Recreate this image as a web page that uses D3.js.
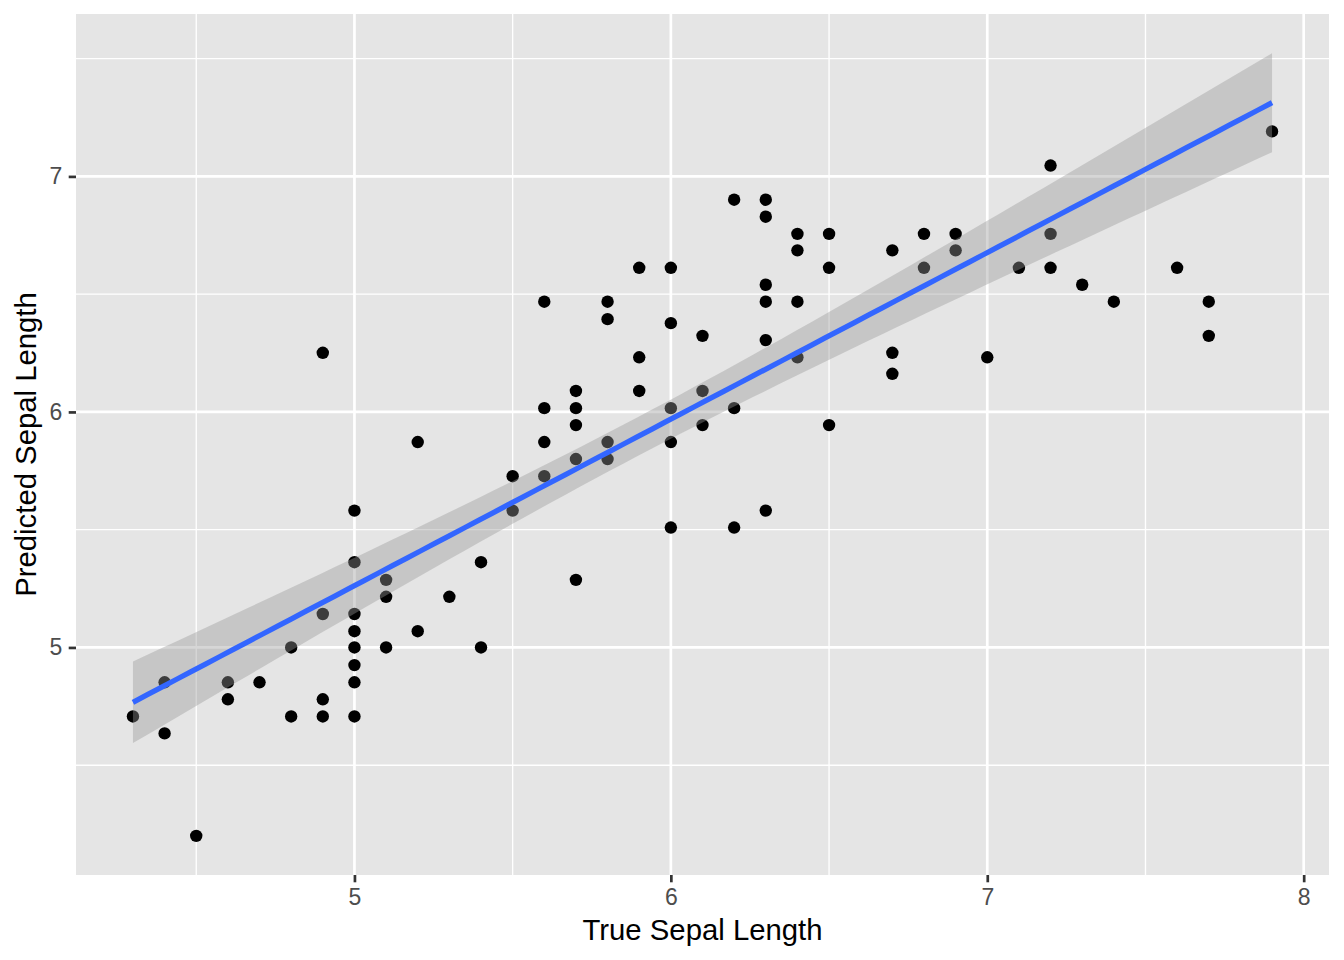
<!DOCTYPE html>
<html>
<head>
<meta charset="utf-8">
<script src="https://cdn.jsdelivr.net/npm/d3@7"></script>
<style>
    body {margin: 0; background: #ffffff;}
    svg {display: block; font-family: "Liberation Sans", Arial, Helvetica, sans-serif;}
    .axis .domain {display: none;}
    .axis line {stroke: #333333; stroke-width: 2.7;}
    .axis text {fill: #4d4d4d; font-size: 23px;}
    .grid-major {stroke: #ffffff; stroke-width: 2.7;}
    .grid-minor {stroke: #ffffff; stroke-width: 1.35;}
    .title {fill: #000000; font-size: 29.3px;}
</style>
</head>
<body>
<div id="plot"></div>
<script>
// true vs predicted sepal length
var trueSepal = [4.3, 4.4, 4.4, 4.5, 4.6, 4.6, 4.7, 4.8, 4.8,
    4.9, 4.9, 4.9, 4.9,
    5.0, 5.0, 5.0, 5.0, 5.0, 5.0, 5.0, 5.0,
    5.1, 5.1, 5.1, 5.2, 5.2, 5.3, 5.4, 5.4, 5.5, 5.5,
    5.6, 5.6, 5.6, 5.6,
    5.7, 5.7, 5.7, 5.7, 5.7,
    5.8, 5.8, 5.8, 5.8,
    5.9, 5.9, 5.9,
    6.0, 6.0, 6.0, 6.0, 6.0,
    6.1, 6.1, 6.1,
    6.2, 6.2, 6.2,
    6.3, 6.3, 6.3, 6.3, 6.3, 6.3,
    6.4, 6.4, 6.4, 6.4,
    6.5, 6.5, 6.5,
    6.7, 6.7, 6.7,
    6.8, 6.8, 6.9, 6.9, 7.0, 7.1,
    7.2, 7.2, 7.2, 7.3, 7.4, 7.6, 7.7, 7.7, 7.9];

var predSepal = [4.707, 4.852, 4.635, 4.200, 4.852, 4.780, 4.852, 5.000, 4.707,
    6.251, 5.142, 4.780, 4.707,
    5.581, 5.362, 5.142, 5.069, 5.000, 4.925, 4.852, 4.707,
    5.287, 5.215, 5.000, 5.872, 5.069, 5.215, 5.362, 5.000, 5.727, 5.581,
    6.468, 6.016, 5.872, 5.727,
    6.089, 6.016, 5.944, 5.800, 5.287,
    6.468, 6.394, 5.872, 5.800,
    6.612, 6.232, 6.089,
    6.612, 6.377, 6.016, 5.872, 5.509,
    6.323, 6.089, 5.944,
    6.901, 6.016, 5.509,
    6.901, 6.829, 6.540, 6.468, 6.305, 5.581,
    6.756, 6.686, 6.468, 6.232,
    6.756, 6.612, 5.944,
    6.686, 6.251, 6.162,
    6.756, 6.612, 6.756, 6.686, 6.232, 6.612,
    7.046, 6.756, 6.612, 6.540, 6.468, 6.612, 6.468, 6.323, 7.191];

var xTicks = [5, 6, 7, 8],
    xMinor = [4.5, 5.5, 6.5, 7.5],
    yTicks = [5, 6, 7],
    yMinor = [4.5, 5.5, 6.5, 7.5];

var margin = {t: 14, r: 15, b: 85, l: 76};
var width = 1344 - margin.l - margin.r,
    height = 960 - margin.t - margin.b;

var svg = d3.select('#plot')
    .append('svg')
    .attr('width', 1344)
    .attr('height', 960);

var data = trueSepal.map(function(d, i){ return {x: d, y: predSepal[i]}; });

// linear fit, like geom_smooth(method = "lm")
var n = data.length;
var mx = d3.mean(data, function(d){ return d.x; }),
    my = d3.mean(data, function(d){ return d.y; });
var sxx = d3.sum(data, function(d){ return (d.x - mx) * (d.x - mx); }),
    sxy = d3.sum(data, function(d){ return (d.x - mx) * (d.y - my); });
var slope = sxy / sxx,
    intercept = my - slope * mx;
var rss = d3.sum(data, function(d){ var e = d.y - intercept - slope * d.x; return e * e; });
var sRes = Math.sqrt(rss / (n - 2));

// t quantile (0.975) by series expansion
function qt975(df){
    var z = 1.959964;
    return z + (Math.pow(z,3) + z) / (4 * df)
        + (5 * Math.pow(z,5) + 16 * Math.pow(z,3) + 3 * z) / (96 * df * df)
        + (3 * Math.pow(z,7) + 19 * Math.pow(z,5) + 17 * Math.pow(z,3) - 15 * z) / (384 * Math.pow(df,3));
}
var tq = qt975(n - 2);

var extentX = d3.extent(data, function(d){ return d.x; });
var smooth = d3.range(80).map(function(i){
    var x = extentX[0] + i * (extentX[1] - extentX[0]) / 79;
    var fit = intercept + slope * x;
    var se = sRes * Math.sqrt(1 / n + (x - mx) * (x - mx) / sxx);
    return {x: x, y: fit, lo: fit - tq * se, hi: fit + tq * se};
});

// ranges with 5% expansion
var yLo = Math.min(d3.min(data, function(d){ return d.y; }), d3.min(smooth, function(d){ return d.lo; })),
    yHi = Math.max(d3.max(data, function(d){ return d.y; }), d3.max(smooth, function(d){ return d.hi; }));
var padX = (extentX[1] - extentX[0]) * 0.05,
    padY = (yHi - yLo) * 0.05;

var scaleX = d3.scaleLinear().domain([extentX[0] - padX, extentX[1] + padX]).range([0, width]);
var scaleY = d3.scaleLinear().domain([yLo - padY, yHi + padY]).range([height, 0]);

var panel = svg.append('g').attr('transform', 'translate(' + margin.l + ',' + margin.t + ')');

panel.append('rect')
    .attr('width', width)
    .attr('height', height)
    .attr('fill', '#e5e5e5');

// grid
panel.selectAll('.gx-minor').data(xMinor).enter().append('line')
    .attr('class', 'grid-minor')
    .attr('x1', function(d){ return scaleX(d); }).attr('x2', function(d){ return scaleX(d); })
    .attr('y1', 0).attr('y2', height);
panel.selectAll('.gy-minor').data(yMinor).enter().append('line')
    .attr('class', 'grid-minor')
    .attr('y1', function(d){ return scaleY(d); }).attr('y2', function(d){ return scaleY(d); })
    .attr('x1', 0).attr('x2', width);
panel.selectAll('.gx-major').data(xTicks).enter().append('line')
    .attr('class', 'grid-major')
    .attr('x1', function(d){ return scaleX(d); }).attr('x2', function(d){ return scaleX(d); })
    .attr('y1', 0).attr('y2', height);
panel.selectAll('.gy-major').data(yTicks).enter().append('line')
    .attr('class', 'grid-major')
    .attr('y1', function(d){ return scaleY(d); }).attr('y2', function(d){ return scaleY(d); })
    .attr('x1', 0).attr('x2', width);

// points first, ribbon drawn over them
panel.append('g').attr('class', 'dots')
    .selectAll('circle')
    .data(data)
    .enter()
    .append('circle')
    .attr('cx', function(d){ return scaleX(d.x); })
    .attr('cy', function(d){ return scaleY(d.y); })
    .attr('r', 6.2)
    .attr('fill', '#000000');

var band = d3.area()
    .x(function(d){ return scaleX(d.x); })
    .y0(function(d){ return scaleY(d.lo); })
    .y1(function(d){ return scaleY(d.hi); });

var fitLine = d3.line()
    .x(function(d){ return scaleX(d.x); })
    .y(function(d){ return scaleY(d.y); });

panel.append('path')
    .datum(smooth)
    .attr('d', band)
    .attr('fill', '#999999')
    .attr('fill-opacity', 0.4);

panel.append('path')
    .datum(smooth)
    .attr('d', fitLine)
    .attr('fill', 'none')
    .attr('stroke', '#3366ff')
    .attr('stroke-width', 5.3);

// axes
var axisX = d3.axisBottom(scaleX).tickValues(xTicks).tickFormat(d3.format('d')).tickSize(7.3).tickPadding(6),
    axisY = d3.axisLeft(scaleY).tickValues(yTicks).tickFormat(d3.format('d')).tickSize(7.3).tickPadding(6.5);

svg.append('g')
    .attr('class', 'axis axis-x')
    .attr('transform', 'translate(' + margin.l + ',' + (margin.t + height) + ')')
    .call(axisX);
svg.append('g')
    .attr('class', 'axis axis-y')
    .attr('transform', 'translate(' + margin.l + ',' + margin.t + ')')
    .call(axisY);
svg.selectAll('.axis').attr('font-size', null).attr('font-family', null);

// titles
svg.append('text')
    .attr('class', 'title')
    .attr('x', margin.l + width / 2)
    .attr('y', 940)
    .attr('text-anchor', 'middle')
    .text('True Sepal Length');

svg.append('text')
    .attr('class', 'title')
    .attr('transform', 'translate(36,' + (margin.t + height / 2) + ') rotate(-90)')
    .attr('text-anchor', 'middle')
    .text('Predicted Sepal Length');
</script>
</body>
</html>
